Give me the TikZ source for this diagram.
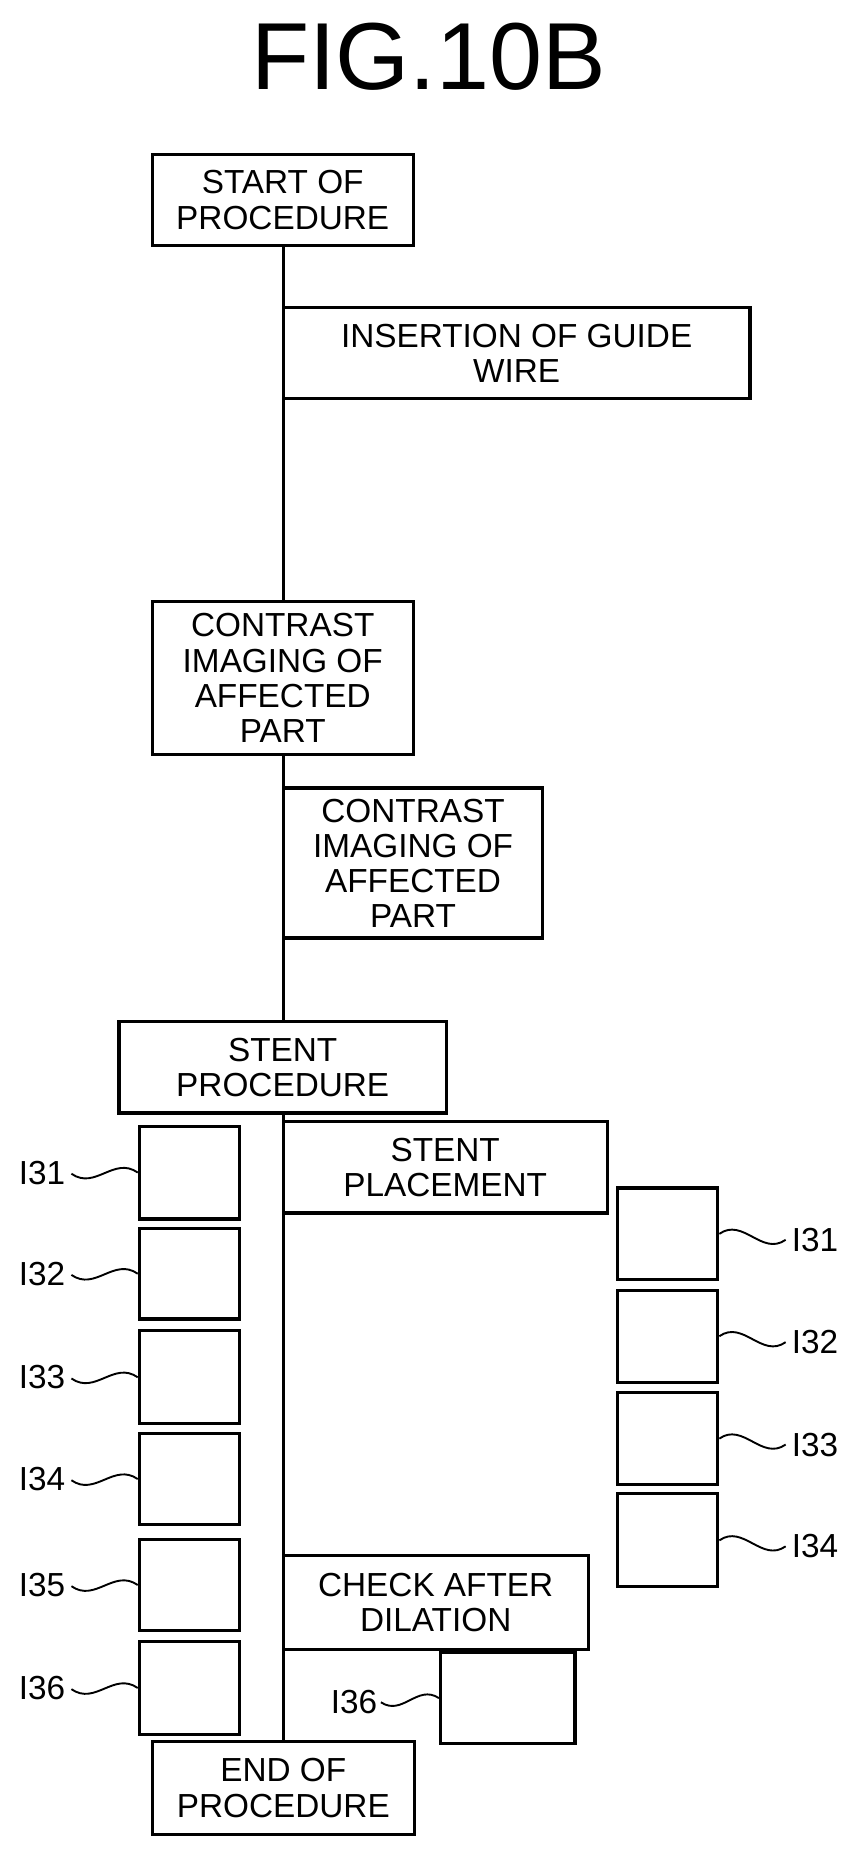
\documentclass[tikz,border=0pt]{standalone}
\usepackage{fontspec}
\setmainfont{Liberation Sans}
\begin{document}
\begin{tikzpicture}[x=1pt,y=-1pt,
  bx/.style={draw,line width=2.6pt,fill=white,align=center,font=\fontsize{28}{29.5}\selectfont,inner sep=0pt},
  lbl/.style={font=\fontsize{28}{29}\selectfont,inner sep=1pt},
  wv/.style={line width=1.6pt},
  ln/.style={line width=2.6pt}]
\useasboundingbox (0,0) rectangle (720,1560);
\newcommand{\bxat}[6]{\node[bx,minimum width=#4-#2,minimum height=#5-#3] (#1) at ({(#2+#4)/2},{(#3+#5)/2}) {#6};}
\node[font=\fontsize{80}{84}\selectfont] (title) at (360,48) {FIG.10B};
% spine
\coordinate (sTop) at (238,206);
\coordinate (sBot) at (238,1463);
\draw[ln] (sTop) -- (sBot);
\bxat{start}{128}{130}{347}{206}{START OF\\PROCEDURE}
\bxat{ins}{238}{258}{630}{335}{INSERTION OF GUIDE\\WIRE}
\bxat{ci1}{128}{505}{347}{634}{CONTRAST\\IMAGING OF\\AFFECTED\\PART}
\bxat{ci2}{238}{662}{456}{788}{CONTRAST\\IMAGING OF\\AFFECTED\\PART}
\bxat{sp}{100}{858}{375}{935}{STENT\\PROCEDURE}
\bxat{spl}{238}{942}{510}{1019}{STENT\\PLACEMENT}
\bxat{chk}{238}{1307}{494}{1386}{CHECK AFTER\\DILATION}
\bxat{end}{128}{1463}{348}{1541}{END OF\\PROCEDURE}
% left small boxes
\foreach \n/\a/\b in {1/946/1024,2/1032/1108,3/1118/1196,4/1204/1281,5/1293/1370,6/1379/1457}{
  \bxat{L\n}{117}{\a}{201}{\b}{}
  \node[lbl,anchor=east] (LL\n) at (56,{(\a+\b)/2}) {I3\n};
  \draw[wv] (LL\n.east) ++(4,1) .. controls +(20,14) and +(-20,-14) .. (L\n.west);
}
% right small boxes
\foreach \n/\a/\b in {1/998/1075,2/1084/1161,3/1170/1247,4/1255/1333}{
  \bxat{R\n}{519}{\a}{603}{\b}{}
  \node[lbl,anchor=west] (RL\n) at (664,{(\a+\b)/2+5}) {I3\n};
  \draw[wv] (R\n.east) .. controls +(20,-14) and +(-20,14) .. ([xshift=-4pt]RL\n.west);
}
\bxat{B6}{370}{1388}{483}{1465}{}
\node[lbl,anchor=east] (BL6) at (318,1430) {I36};
\draw[wv] (BL6.east) ++(2,0) .. controls +(18,12) and +(-18,-12) .. (B6.west);
\end{tikzpicture}
\end{document}
